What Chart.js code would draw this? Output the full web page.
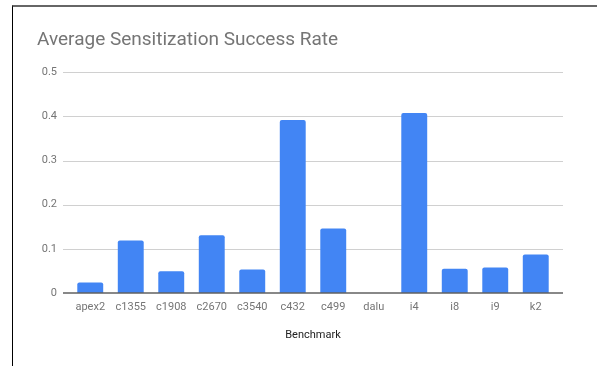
<!DOCTYPE html>
<html>
<head>
<meta charset="utf-8">
<script src="https://cdn.jsdelivr.net/npm/chart.js@4/dist/chart.umd.min.js"></script>
<style>
  body { margin: 0; background: #fff; }
  #frame { position: absolute; left: 12px; top: 5px; width: 585px; height: 361px;
           border-left: 1px solid #000; border-top: 2px solid #666; box-sizing: border-box; }
  canvas { position: absolute; left: 0; top: 0; }
</style>
</head>
<body>
<div id="frame"></div>
<canvas id="myChart" width="597" height="366"></canvas>
<script>
// datos
const benchmarks = ['apex2', 'c1355', 'c1908', 'c2670', 'c3540', 'c432', 'c499', 'dalu', 'i4', 'i8', 'i9', 'k2'];
const successRate = [0.024, 0.119, 0.049, 0.131, 0.053, 0.392, 0.146, 0, 0.408, 0.055, 0.058, 0.087];
const yTicks = [0, 0.1, 0.2, 0.3, 0.4, 0.5];

// lineas de la cuadricula un poco mas anchas que el area de barras
const gridLines = {
    id: 'gridLines',
    beforeDatasetsDraw(chart) {
        const { ctx, chartArea, scales } = chart;
        ctx.save();
        ctx.strokeStyle = '#d0d0d0';
        ctx.lineWidth = 1;
        yTicks.forEach(function(v) {
            if (v === 0) return;
            const y = Math.round(scales.y.getPixelForValue(v)) + 0.5;
            ctx.beginPath();
            ctx.moveTo(chartArea.left - 7, y);
            ctx.lineTo(chartArea.right + 7, y);
            ctx.stroke();
        });
        ctx.restore();
    },
    afterDatasetsDraw(chart) {
        const { ctx, chartArea, scales } = chart;
        const y = scales.y.getPixelForValue(0);
        ctx.save();
        ctx.strokeStyle = '#616161';
        ctx.lineWidth = 1.5;
        ctx.beginPath();
        ctx.moveTo(chartArea.left - 7, y);
        ctx.lineTo(chartArea.right + 7, y);
        ctx.stroke();
        ctx.restore();
    }
};

const ctx = document.getElementById('myChart');
new Chart(ctx, {
    type: 'bar',
    data: {
        labels: benchmarks,
        datasets: [{
            label: 'Average Sensitization Success Rate',
            data: successRate,
            backgroundColor: '#4285f4',
            borderRadius: 2,
            borderSkipped: 'bottom',
            categoryPercentage: 1,
            barPercentage: 0.64
        }]
    },
    options: {
        responsive: false,
        animation: false,
        layout: { padding: { left: 37, right: 41, top: 0, bottom: 0 } },
        plugins: {
            legend: { display: false },
            tooltip: { enabled: false },
            title: {
                display: true,
                text: 'Average Sensitization Success Rate',
                align: 'start',
                color: '#757575',
                font: { family: 'Roboto', size: 19, weight: 'normal' },
                padding: { top: 29, bottom: 20.5 }
            }
        },
        scales: {
            x: {
                grid: { display: false, drawTicks: false },
                border: { display: false },
                ticks: {
                    color: '#757575',
                    font: { family: 'Roboto', size: 11 },
                    padding: 8,
                    maxRotation: 0,
                    autoSkip: false
                },
                title: {
                    display: true,
                    text: 'Benchmark',
                    color: '#222',
                    font: { family: 'Roboto', size: 11 },
                    padding: { top: 4, bottom: 24 }
                },
                afterFit(scale) { scale.height = 73; }
            },
            y: {
                min: 0,
                max: 0.5,
                grid: { display: false, drawTicks: false },
                border: { display: false },
                afterBuildTicks(scale) { scale.ticks = yTicks.map(v => ({ value: v })); },
                ticks: {
                    color: '#757575',
                    font: { family: 'Roboto', size: 11 },
                    padding: 13,
                    callback: v => String(v)
                },
                afterFit(scale) { scale.width = 33; }
            }
        }
    },
    plugins: [gridLines]
});
</script>
</body>
</html>
